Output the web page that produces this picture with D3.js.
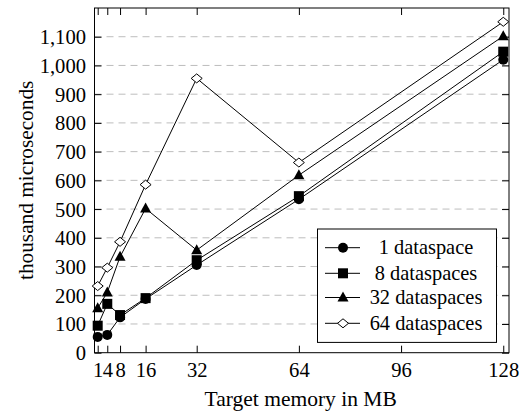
<!DOCTYPE html>
<html>
<head>
<meta charset="utf-8">
<script src="https://cdn.jsdelivr.net/npm/d3@7"></script>
<style>
  html, body { margin: 0; padding: 0; background: #fff; }
</style>
</head>
<body>
<svg id="chart" width="528" height="412"></svg>
<script>
const memorySizes = [1, 4, 8, 16, 32, 64, 128];
const xTickValues = [1, 4, 8, 16, 32, 64, 96, 128];
const yTickValues = [0, 100, 200, 300, 400, 500, 600, 700, 800, 900, 1000, 1100];
const seriesNames = ["1 dataspace", "8 dataspaces", "32 dataspaces", "64 dataspaces"];
const markerTypes = ["circle", "square", "triangle", "diamond"];
const oneDataspace = [55, 62, 123, 187, 305, 534, 1020];
const eightDataspaces = [94, 170, 131, 190, 322, 545, 1048];
const thirtyTwoDataspaces = [155, 210, 334, 502, 357, 618, 1102];
const sixtyFourDataspaces = [232, 296, 386, 585, 955, 662, 1152];
const seriesValues = [oneDataspace, eightDataspaces, thirtyTwoDataspaces, sixtyFourDataspaces];

(function () {
const FONT = "'Liberation Serif', 'Times New Roman', 'DejaVu Serif', serif";
const svg = d3.select("#chart");
const pL = 94.5, pR = 509, pT = 8, pB = 352.7;
const x = d3.scaleLinear().domain([0, 129.8]).range([pL, pR]);
const y = d3.scaleLinear().domain([0, 1200]).range([pB, pT]);
function styleText(size) {
  return sel => sel.style("font-family", FONT).style("font-size", size + "px").style("fill", "#000");
}

// grid
svg.append("g").selectAll("line").data(yTickValues.filter(v => v > 0)).join("line")
  .attr("x1", pL).attr("x2", pR)
  .attr("y1", d => y(d)).attr("y2", d => y(d))
  .attr("stroke", "#bdbdbd").attr("stroke-width", 1).attr("stroke-dasharray", "7,5");

// axes (ticks inside)
const tl = 7;
const xAxisB = d3.axisBottom(x).tickValues(xTickValues).tickSize(-tl).tickPadding(9).tickFormat(d3.format("d"));
const gx = svg.append("g").attr("transform", `translate(0,${pB})`).call(xAxisB);
gx.select(".domain").remove();
gx.selectAll("text").call(styleText(20.6)).attr("dy", "0.72em");
gx.selectAll("line").attr("stroke", "#000");

const xAxisT = d3.axisTop(x).tickValues(xTickValues).tickSize(-tl).tickFormat("");
const gxt = svg.append("g").attr("transform", `translate(0,${pT})`).call(xAxisT);
gxt.select(".domain").remove();
gxt.selectAll("line").attr("stroke", "#000");

const yAxisL = d3.axisLeft(y).tickValues(yTickValues).tickSize(-tl).tickPadding(8.5).tickFormat(d3.format(","));
const gy = svg.append("g").attr("transform", `translate(${pL},0)`).call(yAxisL);
gy.select(".domain").remove();
gy.selectAll("text").call(styleText(20.6)).attr("dy", "0.34em");
gy.selectAll("line").attr("stroke", "#000");

const yAxisR = d3.axisRight(y).tickValues(yTickValues).tickSize(-tl).tickFormat("");
const gyr = svg.append("g").attr("transform", `translate(${pR},0)`).call(yAxisR);
gyr.select(".domain").remove();
gyr.selectAll("line").attr("stroke", "#000");

// frame
svg.append("rect").attr("x", pL).attr("y", pT).attr("width", pR - pL).attr("height", pB - pT)
  .attr("fill", "none").attr("stroke", "#000").attr("stroke-width", 1);

function drawMarker(g, type, cx, cy) {
  if (type === "circle") {
    g.append("circle").attr("cx", cx).attr("cy", cy).attr("r", 5).attr("fill", "#000");
  } else if (type === "square") {
    g.append("rect").attr("x", cx - 5).attr("y", cy - 5).attr("width", 10).attr("height", 10).attr("fill", "#000");
  } else if (type === "triangle") {
    g.append("path").attr("d", `M${cx},${cy - 6}L${cx + 5.5},${cy + 4}L${cx - 5.5},${cy + 4}Z`).attr("fill", "#000");
  } else {
    g.append("path").attr("d", `M${cx},${cy - 4.5}L${cx + 5.5},${cy}L${cx},${cy + 4.5}L${cx - 5.5},${cy}Z`)
      .attr("fill", "#fff").attr("stroke", "#000").attr("stroke-width", 1);
  }
}

const line = d3.line().x(d => x(d[0])).y(d => y(d[1]));
seriesValues.forEach((vals, i) => {
  const pts = memorySizes.map((m, j) => [m, vals[j]]);
  const g = svg.append("g");
  g.append("path").attr("d", line(pts)).attr("fill", "none").attr("stroke", "#000").attr("stroke-width", 1);
  pts.forEach(p => drawMarker(g, markerTypes[i], x(p[0]), y(p[1])));
});

// legend
const lgX = 317.5, lgY = 229, lgW = 179, lgH = 113.4;
const lg = svg.append("g");
lg.append("rect").attr("x", lgX).attr("y", lgY).attr("width", lgW).attr("height", lgH)
  .attr("fill", "#fff").attr("stroke", "#000").attr("stroke-width", 1);
const rowY = [247.7, 273.3, 297.5, 323.3];
seriesNames.forEach((name, i) => {
  const ry = rowY[i];
  lg.append("line").attr("x1", 325).attr("x2", 360).attr("y1", ry).attr("y2", ry).attr("stroke", "#000");
  drawMarker(lg, markerTypes[i], 343, ry);
  lg.append("text").attr("x", 426).attr("y", ry).attr("dy", "0.33em").attr("text-anchor", "middle")
    .call(styleText(20.4)).text(name);
});

// axis titles
svg.append("text").attr("x", 300.7).attr("y", 406).attr("text-anchor", "middle")
  .call(styleText(21.5)).text("Target memory in MB");
svg.append("text").attr("transform", `translate(33,${(pT + pB) / 2}) rotate(-90)`).attr("text-anchor", "middle")
  .call(styleText(21.3)).text("thousand microseconds");
})();
</script>
</body>
</html>
